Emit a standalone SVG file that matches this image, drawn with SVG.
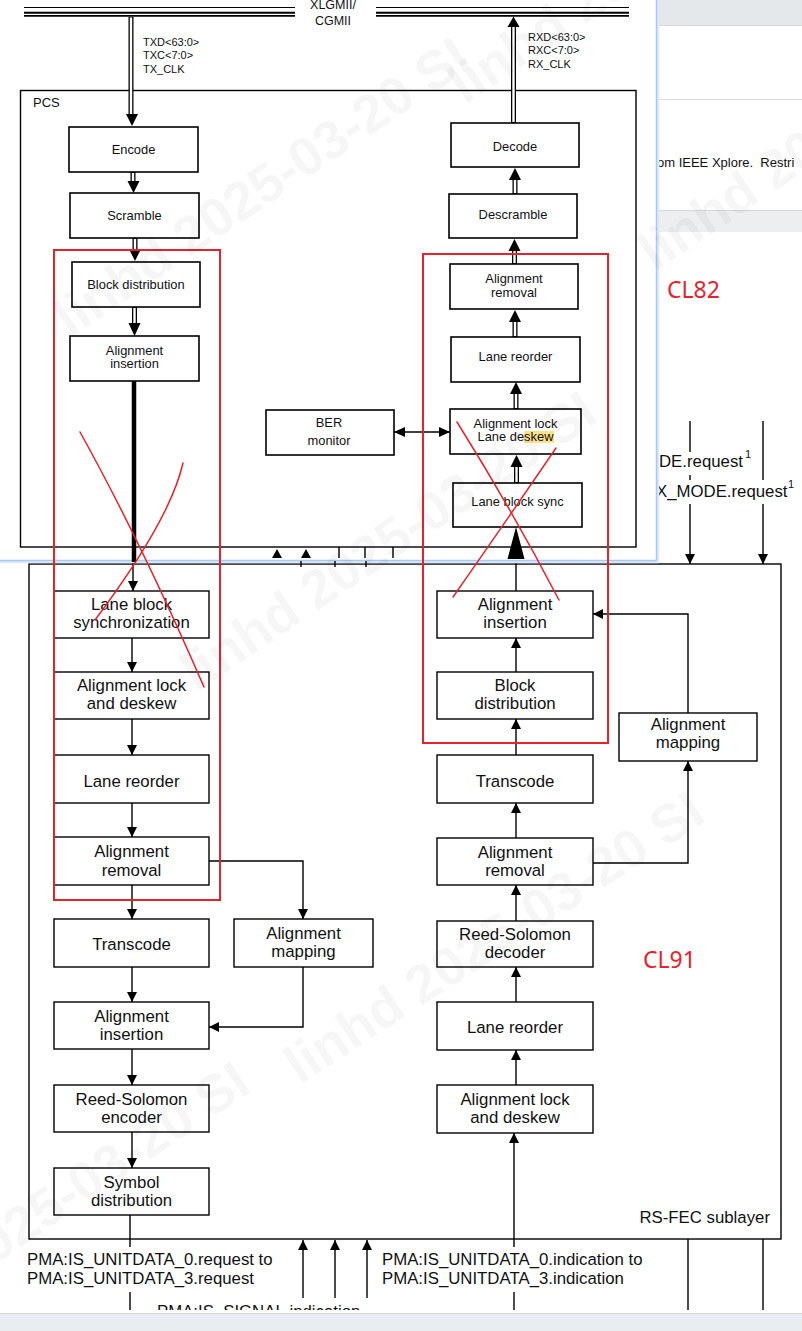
<svg xmlns="http://www.w3.org/2000/svg" width="802" height="1331" viewBox="0 0 802 1331">
<style>
  text { font-family: "Liberation Sans", Arial, sans-serif; fill: #111; }
  .box { fill: #fff; stroke: #000; stroke-width: 1.4; }
  .pbox { fill: #fff; stroke: #000; stroke-width: 1.6; }
  .frame { fill: none; stroke: #000; stroke-width: 1.4; }
  .lbl { font-size: 16.8px; text-anchor: middle; }
  .plbl { font-size: 12.9px; text-anchor: middle; }
  .sig { font-size: 11px; }
  .pma { font-size: 16.8px; }
  .wire { fill: none; stroke: #000; stroke-width: 1.4; }
  .wa { fill: none; stroke: #000; stroke-width: 1.4; marker-end: url(#ah); }
  .dbl-o { fill: none; stroke: #000; stroke-width: 5; }
  .dbl-i { fill: none; stroke: #fff; stroke-width: 2.4; }
  .head { fill: #000; }
  .redbox { fill: none; stroke: #e8222b; stroke-width: 2; }
  .redx { fill: none; stroke: #e8222b; stroke-width: 1.5; stroke-linecap: round; }
  .clx { font-family: "Noto Sans", "Open Sans", sans-serif; font-size: 23px; fill: #e8222b; }
  .wm { font-family: "Liberation Sans", Arial, sans-serif; font-weight: bold; font-size: 54px; fill: #000; fill-opacity: 0.035; }
</style>
<defs>
  <marker id="ah" viewBox="0 0 10 10" refX="10" refY="5" markerWidth="10" markerHeight="10" markerUnits="userSpaceOnUse" orient="auto">
    <path d="M0,0 L10,5 L0,10 z" fill="#000"/>
  </marker>
  <marker id="ah2" viewBox="0 0 11 10" refX="11" refY="5" markerWidth="11" markerHeight="10" markerUnits="userSpaceOnUse" orient="auto-start-reverse">
    <path d="M0,0 L11,5 L0,10 z" fill="#000"/>
  </marker>
</defs>

<rect x="0" y="0" width="802" height="1331" fill="#fff"/>

<!-- page behind the PCS window (top right) -->
<g id="page-bg">
  <rect x="657" y="0" width="145" height="25" fill="#e4e8eb"/>
  <line x1="657" y1="25.5" x2="802" y2="25.5" stroke="#d3d8dc"/>
  <line x1="657" y1="99.5" x2="802" y2="99.5" stroke="#d7dbdf"/>
  <text x="657" y="167" font-size="13" fill="#222" xml:space="preserve">om IEEE Xplore.  Restri</text>
  <rect x="657" y="211" width="145" height="21" fill="#eceef0"/>
  <line x1="657" y1="210.5" x2="802" y2="210.5" stroke="#d3d8dc"/>
</g>

<!-- RS-FEC sublayer -->
<g id="rsfec">
  <rect class="frame" x="29" y="564" width="752" height="675"/>
  <text x="770" y="1223" font-size="16.8" text-anchor="end">RS-FEC sublayer</text>
</g>

<g id="tx-lbs"><rect class="box" x="54" y="591" width="155" height="47"/><text class="lbl" x="131.5" y="610">Lane block</text><text class="lbl" x="131.5" y="628">synchronization</text></g>
<g id="tx-ald"><rect class="box" x="54" y="672" width="155" height="47"/><text class="lbl" x="131.5" y="691">Alignment lock</text><text class="lbl" x="131.5" y="709">and deskew</text></g>
<g id="tx-lr"><rect class="box" x="54" y="755" width="155" height="48"/><text class="lbl" x="131.5" y="787">Lane reorder</text></g>
<g id="tx-ar"><rect class="box" x="54" y="837" width="155" height="48"/><text class="lbl" x="131.5" y="857">Alignment</text><text class="lbl" x="131.5" y="876">removal</text></g>
<g id="tx-tc"><rect class="box" x="54" y="919" width="155" height="48"/><text class="lbl" x="131.5" y="950">Transcode</text></g>
<g id="tx-am"><rect class="box" x="234" y="919" width="139" height="48"/><text class="lbl" x="303.5" y="939">Alignment</text><text class="lbl" x="303.5" y="957">mapping</text></g>
<g id="tx-ai"><rect class="box" x="54" y="1002" width="155" height="47"/><text class="lbl" x="131.5" y="1022">Alignment</text><text class="lbl" x="131.5" y="1040">insertion</text></g>
<g id="tx-rse"><rect class="box" x="54" y="1085" width="155" height="47"/><text class="lbl" x="131.5" y="1105">Reed-Solomon</text><text class="lbl" x="131.5" y="1123">encoder</text></g>
<g id="tx-sd"><rect class="box" x="54" y="1168" width="155" height="47"/><text class="lbl" x="131.5" y="1188">Symbol</text><text class="lbl" x="131.5" y="1206">distribution</text></g>

<g id="rx-ai"><rect class="box" x="437" y="591" width="156" height="47"/><text class="lbl" x="515" y="610">Alignment</text><text class="lbl" x="515" y="628">insertion</text></g>
<g id="rx-bd"><rect class="box" x="437" y="672" width="156" height="47"/><text class="lbl" x="515" y="691">Block</text><text class="lbl" x="515" y="709">distribution</text></g>
<g id="rx-am"><rect class="box" x="619" y="713" width="138" height="48"/><text class="lbl" x="688" y="730">Alignment</text><text class="lbl" x="688" y="748">mapping</text></g>
<g id="rx-tc"><rect class="box" x="437" y="755" width="156" height="48"/><text class="lbl" x="515" y="787">Transcode</text></g>
<g id="rx-ar"><rect class="box" x="437" y="838" width="156" height="47"/><text class="lbl" x="515" y="858">Alignment</text><text class="lbl" x="515" y="876">removal</text></g>
<g id="rx-rsd"><rect class="box" x="437" y="921" width="156" height="46"/><text class="lbl" x="515" y="940">Reed-Solomon</text><text class="lbl" x="515" y="958">decoder</text></g>
<g id="rx-lr"><rect class="box" x="437" y="1002" width="156" height="48"/><text class="lbl" x="515" y="1033">Lane reorder</text></g>
<g id="rx-ald"><rect class="box" x="437" y="1085" width="156" height="48"/><text class="lbl" x="515" y="1105">Alignment lock</text><text class="lbl" x="515" y="1123">and deskew</text></g>

<!-- service primitives around the sublayer -->
<g id="primitives">
  <text x="659" y="467" font-size="16.8">DE.request</text>
  <text x="745" y="458" font-size="11">1</text>
  <text x="656" y="497" font-size="16.8">X_MODE.request</text>
  <text x="788" y="488" font-size="11">1</text>
  <text class="pma" x="27" y="1265">PMA:IS_UNITDATA_0.request to</text>
  <text class="pma" x="27" y="1284">PMA:IS_UNITDATA_3.request</text>
  <text class="pma" x="382" y="1265">PMA:IS_UNITDATA_0.indication to</text>
  <text class="pma" x="382" y="1284">PMA:IS_UNITDATA_3.indication</text>
  <text class="pma" x="157" y="1317">PMA:IS_SIGNAL.indication</text>
</g>

<g id="connectors">
  <!-- transmit column -->
  <path class="wa" d="M133,561 V591"/>
  <path class="wa" d="M132,638 V672"/>
  <path class="wa" d="M132,719 V755"/>
  <path class="wa" d="M132,803 V837"/>
  <path class="wa" d="M132,885 V919"/>
  <path class="wa" d="M132,967 V1002"/>
  <path class="wa" d="M132,1049 V1085"/>
  <path class="wa" d="M132,1132 V1168"/>
  <path class="wire" d="M130,1215 V1247 M130,1292 V1310"/>
  <path class="wa" d="M209,861 H303 V919"/>
  <path class="wa" d="M303,967 V1027 H209"/>
  <!-- receive column -->
  <path class="wire" d="M516,559 V591"/>
  <path class="wa" d="M516,672 V638"/>
  <path class="wa" d="M516,755 V719"/>
  <path class="wa" d="M516,838 V803"/>
  <path class="wa" d="M516,921 V885"/>
  <path class="wa" d="M516,1002 V967"/>
  <path class="wa" d="M516,1085 V1050"/>
  <path class="wa" d="M514,1247 V1133"/>
  <path class="wire" d="M514,1292 V1310"/>
  <path class="wa" d="M593,863 H688 V761"/>
  <path class="wa" d="M688,713 V614 H593"/>
  <!-- control inputs -->
  <path class="wire" d="M690,421 V452 M690,475 V480"/>
  <path class="wa" d="M690,504 V564"/>
  <path class="wire" d="M763,421 V480"/>
  <path class="wa" d="M763,504 V564"/>
  <path class="wire" d="M688,1239 V1310 M763,1239 V1310"/>
  <path class="wa" d="M303,1298 V1240"/>
  <path class="wa" d="M335,1298 V1240"/>
  <path class="wa" d="M367,1298 V1240"/>
</g>

<!-- PCS window -->
<g id="pcs-window">
  <rect x="0" y="0" width="656" height="560" fill="#fff"/>
  <line x1="658" y1="0" x2="658" y2="562" stroke="#dce9f8" stroke-width="2.5"/>
  <line x1="0" y1="562" x2="658" y2="562" stroke="#dce9f8" stroke-width="2.5"/>
  <line x1="656.5" y1="0" x2="656.5" y2="560.5" stroke="#a9c9ef" stroke-width="1.5"/>
  <line x1="0" y1="560.5" x2="656.5" y2="560.5" stroke="#a9c9ef" stroke-width="1.5"/>
</g>

<g id="xlgmii">
  <path d="M24,7.5 H295 M376,7.5 H629" stroke="#000" stroke-width="1.2"/>
  <path d="M24,12.7 H295 M376,12.7 H629" stroke="#000" stroke-width="2"/>
  <path d="M24,15.9 H295 M376,15.9 H629" stroke="#000" stroke-width="1.8"/>
  <text x="333" y="9" font-size="12.5" text-anchor="middle">XLGMII/</text>
  <text x="333" y="25" font-size="12.5" text-anchor="middle">CGMII</text>
  <text class="sig" x="143" y="46">TXD&lt;63:0&gt;</text>
  <text class="sig" x="143" y="59">TXC&lt;7:0&gt;</text>
  <text class="sig" x="143" y="72.5">TX_CLK</text>
  <text class="sig" x="528" y="41">RXD&lt;63:0&gt;</text>
  <text class="sig" x="528" y="54">RXC&lt;7:0&gt;</text>
  <text class="sig" x="528" y="67.5">RX_CLK</text>
</g>

<g id="pcs">
  <rect class="frame" x="20.5" y="90.5" width="615.5" height="456.5" stroke-width="1.5"/>
  <text x="33" y="107" font-size="13">PCS</text>
</g>

<g id="pcs-encode"><rect class="pbox" x="69" y="127" width="129" height="45"/><text class="plbl" x="133.5" y="154">Encode</text></g>
<g id="pcs-scramble"><rect class="pbox" x="70" y="193" width="129" height="45"/><text class="plbl" x="134.5" y="220">Scramble</text></g>
<g id="pcs-blockdist"><rect class="pbox" x="72" y="262" width="128" height="45"/><text class="plbl" x="136" y="289">Block distribution</text></g>
<g id="pcs-aligins"><rect class="pbox" x="70" y="336" width="129" height="45"/><text class="plbl" x="134.5" y="355">Alignment</text><text class="plbl" x="134.5" y="368">insertion</text></g>
<g id="pcs-decode"><rect class="pbox" x="451" y="123" width="128" height="44"/><text class="plbl" x="515" y="151">Decode</text></g>
<g id="pcs-descramble"><rect class="pbox" x="449" y="194" width="128" height="44"/><text class="plbl" x="513" y="219">Descramble</text></g>
<g id="pcs-aligrem"><rect class="pbox" x="450" y="264" width="128" height="45"/><text class="plbl" x="514" y="283">Alignment</text><text class="plbl" x="514" y="297">removal</text></g>
<g id="pcs-lanereorder"><rect class="pbox" x="451" y="337" width="129" height="45"/><text class="plbl" x="515.5" y="361">Lane reorder</text></g>
<g id="pcs-aliglock">
  <rect class="pbox" x="450" y="409" width="131" height="45"/>
  <rect x="524" y="431" width="30" height="12" fill="#fde08a"/>
  <text class="plbl" x="515.5" y="428">Alignment lock</text>
  <text class="plbl" x="515.5" y="441">Lane deskew</text>
</g>
<g id="pcs-lbsync"><rect class="pbox" x="453" y="483" width="129" height="44"/><text class="plbl" x="517.5" y="506">Lane block sync</text></g>
<g id="pcs-ber"><rect class="pbox" x="266" y="410" width="128" height="45"/><text class="plbl" x="329" y="427">BER</text><text class="plbl" x="329" y="445">monitor</text></g>

<g id="pcs-connectors">
  <!-- transmit data path -->
  <path class="dbl-o" d="M131,17 V115"/><path class="dbl-i" d="M131,17.5 V115"/>
  <polygon class="head" points="126,114 138,114 132,126"/>
  <path class="dbl-o" d="M133,172 V182"/><path class="dbl-i" d="M133,173 V182"/>
  <polygon class="head" points="127.5,181 139.5,181 133.5,193"/>
  <path class="dbl-o" d="M135,238 V250"/><path class="dbl-i" d="M135,239 V250"/>
  <polygon class="head" points="129,249 141,249 135,261"/>
  <path class="dbl-o" d="M134.5,307 V324"/><path class="dbl-i" d="M134.5,308 V324"/>
  <polygon class="head" points="128.5,323 140.5,323 134.5,336"/>
  <line x1="134" y1="381" x2="134" y2="562" stroke="#000" stroke-width="4.5"/>
  <!-- receive data path -->
  <path class="dbl-o" d="M513.5,123 V26"/><path class="dbl-i" d="M513.5,122 V26"/>
  <polygon class="head" points="507.5,27 519.5,27 513.5,16.5"/>
  <path class="dbl-o" d="M515,194 V179"/><path class="dbl-i" d="M515,193 V179"/>
  <polygon class="head" points="509,180 521,180 515,168"/>
  <path class="dbl-o" d="M514.5,264 V250"/><path class="dbl-i" d="M514.5,263 V250"/>
  <polygon class="head" points="508.5,251 520.5,251 514.5,239"/>
  <path class="dbl-o" d="M515,337 V321"/><path class="dbl-i" d="M515,336 V321"/>
  <polygon class="head" points="509,322 521,322 515,310"/>
  <path class="dbl-o" d="M516,409 V393"/><path class="dbl-i" d="M516,408 V393"/>
  <polygon class="head" points="510,394 522,394 516,382"/>
  <path class="dbl-o" d="M516.5,483 V466"/><path class="dbl-i" d="M516.5,482 V466"/>
  <polygon class="head" points="510.5,467 522.5,467 516.5,455"/>
  <polygon class="head" points="507.5,559 524.5,559 516,527"/>
  <!-- BER monitor link -->
  <path d="M394,432 H450" fill="none" stroke="#000" stroke-width="1.4" marker-start="url(#ah2)" marker-end="url(#ah2)"/>
  <!-- lower interface stubs -->
  <polygon class="head" points="272,558 282,558 277,549"/>
  <polygon class="head" points="301,558 311,558 306,549"/>
  <path class="wire" d="M339,547 V558 M365,547 V558 M393,547 V558"/>
  <path class="wire" d="M301,561 V567 M335,561 V567 M366,561 V567"/>
</g>

<!-- hand-drawn markup -->
<g id="markup">
  <rect class="redbox" x="54" y="250" width="166" height="650"/>
  <rect class="redbox" x="423" y="254" width="185" height="489"/>
  <path class="redx" d="M80,432 Q140,540 204,687"/>
  <path class="redx" d="M183,463 Q170,520 95,620"/>
  <path class="redx" d="M457,422 Q512,510 559,600"/>
  <path class="redx" d="M556,448 Q500,530 453,597"/>
  <text class="clx" x="667" y="298">CL82</text>
  <text class="clx" x="643" y="968">CL91</text>
</g>

<!-- bottom browser strip -->
<rect x="0" y="1310" width="802" height="3" fill="#fff"/>
<rect x="0" y="1313" width="802" height="18" fill="#e9edf0"/>
<line x1="0" y1="1313.5" x2="802" y2="1313.5" stroke="#cfd5db"/>

<g id="watermark">
  <text class="wm" transform="translate(70,338) rotate(-34)">linhd 2025-03-20 SI</text>
  <text class="wm" transform="translate(197,692) rotate(-34)">linhd 2025-03-20 SI</text>
  <text class="wm" transform="translate(300,1085) rotate(-33)">linhd 2025-03-20 SI</text>
  <text class="wm" transform="translate(-150,1362) rotate(-34)">linhd 2025-03-20 SI</text>
  <text class="wm" transform="translate(465,105) rotate(-34)">linhd 2025-03-20 SI</text>
  <text class="wm" transform="translate(655,272) rotate(-34)">linhd 2025-03-20 SI</text>
</g>
</svg>
